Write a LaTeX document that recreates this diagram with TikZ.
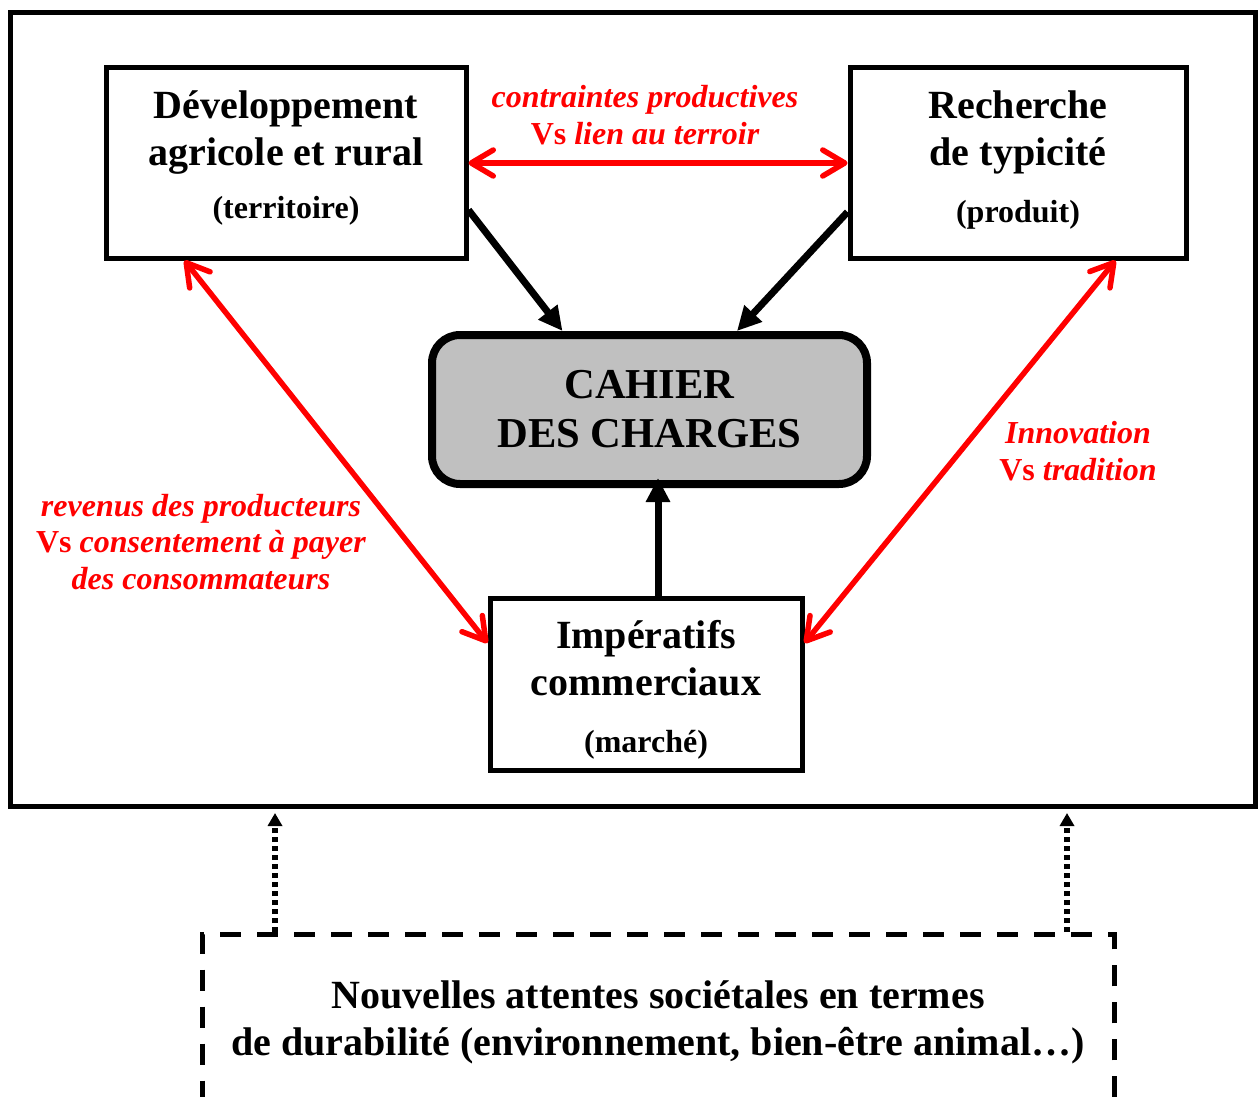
\documentclass[tikz,border=0pt]{standalone}
\usepackage{fontspec}
\setmainfont{Liberation Serif}
\usetikzlibrary{arrows.meta,positioning,calc}
\definecolor{tensionred}{HTML}{FF0000}
\definecolor{chargegray}{HTML}{C0C0C0}
\tikzset{
  polebox/.style={
    draw,
    line width=2.5pt,
    align=center,
    inner sep=0pt,
    minimum height=95pt,
    font=\bfseries\fontsize{20}{23.5}\selectfont
  },
  chargebox/.style={
    draw,
    line width=4pt,
    fill=chargegray,
    rounded corners=14pt,
    align=center,
    inner sep=0pt,
    minimum width=217.5pt,
    minimum height=74.5pt,
    font=\bfseries\fontsize{21.3}{24.5}\selectfont
  },
  societybox/.style={
    draw,
    line width=2.5pt,
    dash pattern=on 10.5pt off 8pt,
    align=center,
    inner xsep=0pt,
    inner ysep=23pt,
    minimum width=456pt,
    text depth=60pt,
    font=\bfseries\fontsize{20}{23.5}\selectfont
  },
  tensiontext/.style={
    text=tensionred,
    align=center,
    inner sep=0pt,
    font=\bfseries\itshape\fontsize{16}{18.25}\selectfont
  },
  tensionarrow/.style={{Straight Barb[length=11pt,width=13pt,round]}-{Straight Barb[length=11pt,width=13pt,round]}, line width=2.75pt, draw=tensionred},
  feedarrow/.style={-{Triangle[length=12pt,width=11.5pt]}, line width=3.5pt},
  societyarrow/.style={-{Triangle[length=6.5pt,width=7pt]}, line width=3pt, dash pattern=on 2.5pt off 2pt}
}
% small third line, with an optional strut depth to set the text in its box
\newcommand{\subline}[2][0pt]{{\fontsize{16}{18}\selectfont #2}\rule[-#1]{0pt}{#1}}

\begin{document}
\begin{tikzpicture}[x=0.5pt,y=-0.5pt]
\useasboundingbox (0,0) rectangle (1258,1097);
\clip (0,0) rectangle (1258,1097);

\node[draw, line width=2.5pt, minimum width=622.5pt, minimum height=396.75pt] (frame) at (632.5,409.25) {};

\node[polebox, minimum width=180pt] (dev) at (286,163) {Développement\\agricole et rural\\[3pt]\subline[8.5pt]{(territoire)}};
\node[polebox, minimum width=168pt] (typ) at (1018,163) {Recherche\\de typicité\\[5pt]\subline[6.5pt]{(produit)}};
\node[chargebox] (cah) at (649.5,409.5) {CAHIER\\DES CHARGES};
\node[polebox, minimum width=156pt, minimum height=86pt] (imp) at (646,684) {\rule{0pt}{20pt}Impératifs\\commerciaux\\[5pt]\subline{(marché)}};

\node[tensiontext] (t1) at (645,115) {contraintes productives\\{\upshape Vs} lien au terroir};
\node[tensiontext] (t2) at (1078,451) {Innovation\\{\upshape Vs} tradition};
\node[tensiontext] (t3) at (201,542) {revenus des producteurs\\{\upshape Vs} consentement à payer\\des consommateurs};

\node[societybox, anchor=north] (soc) at (658,932) {Nouvelles attentes sociétales en termes\\de durabilité (environnement, bien-être animal…)};

% tensions between the poles
\draw[tensionarrow] (dev.east) -- (typ.west);
\draw[tensionarrow] ([xshift=40.5pt]dev.south west) -- ([yshift=20.5pt]imp.west);
\draw[tensionarrow] ([xshift=-36.5pt]typ.south east) -- ([yshift=20.5pt]imp.east);

% inputs to the specification
\draw[feedarrow] ([yshift=-23.5pt]dev.east) -- ([xshift=-43.5pt]cah.north);
\draw[feedarrow] ([yshift=-24.5pt]typ.west) -- ([xshift=43.75pt]cah.north);
\draw[feedarrow, shorten >=-5pt] ([xshift=6pt]imp.north) -- ([xshift=6pt]imp.north |- cah.south);

% societal expectations
\coordinate (upL) at (275,813);
\coordinate (upR) at (1067,813);
\draw[societyarrow] (soc.north -| upL) -- (upL);
\draw[societyarrow] (soc.north -| upR) -- (upR);
\end{tikzpicture}
\end{document}
